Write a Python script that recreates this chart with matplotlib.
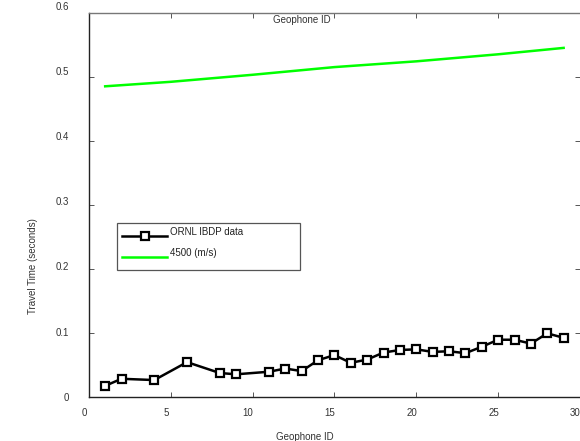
import matplotlib
matplotlib.use("Agg")
import matplotlib.pyplot as plt
from matplotlib.transforms import ScaledTranslation
from matplotlib.patches import Rectangle

# Measured first-arrival travel times per geophone
geophone_ids = [1, 2, 4, 6, 8, 9, 11, 12, 13, 14, 15, 16, 17, 18, 19, 20,
                21, 22, 23, 24, 25, 26, 27, 28, 29]
travel_times = [0.017, 0.028, 0.026, 0.054, 0.037, 0.035, 0.039, 0.044, 0.040,
                0.057, 0.065, 0.053, 0.058, 0.069, 0.073, 0.074, 0.070, 0.071,
                0.068, 0.078, 0.089, 0.089, 0.083, 0.099, 0.092]

# Predicted travel times for a 4500 m/s velocity model
model_ids = [1, 5, 10, 15, 20, 25, 29]
model_times = [0.485, 0.492, 0.503, 0.515, 0.524, 0.535, 0.545]

x_ticks = [0, 5, 10, 15, 20, 25, 30]
x_tick_labels = ["0", "5", "10", "15", "20", "25", "30"]
y_ticks = [0, 0.1, 0.2, 0.3, 0.4, 0.5, 0.6]
y_tick_labels = ["0", "0.1", "0.2", "0.3", "0.4", "0.5", "0.6"]

plt.rcParams["font.family"] = ["Liberation Sans", "DejaVu Sans"]

fig = plt.figure(figsize=(5.8, 4.41), dpi=100)
ax = fig.add_axes([88.8 / 580, 44.3 / 441, 491.2 / 580, 384 / 441])

ax.plot(geophone_ids, travel_times, color="black", lw=1.8, marker="s",
        markersize=6, markeredgewidth=1.6, markerfacecolor="white",
        markeredgecolor="black", label="ORNL IBDP data")
ax.plot(model_ids, model_times, color="#00ff00", lw=1.8, label="4500 (m/s)")

ax.set_xlim(0, 30)
ax.set_ylim(0, 0.6)
ax.set_xticks(x_ticks)
ax.set_xticklabels(x_tick_labels)
ax.set_yticks(y_ticks)
ax.set_yticklabels(y_tick_labels)

ax.tick_params(direction="in", length=3.6, width=0.7, color="#555555",
               labelsize=7, labelcolor="#333333", top=True, right=True)
ax.tick_params(axis="y", pad=14)
ax.tick_params(axis="x", pad=8)

for side in ("left", "bottom"):
    ax.spines[side].set_color("#222222")
    ax.spines[side].set_linewidth(1.0)
ax.spines["top"].set_color("#777777")
ax.spines["top"].set_linewidth(1.0)
ax.spines["right"].set_visible(False)

# Shift tick labels slightly, as in the exported figure
for i, lab in enumerate(ax.get_yticklabels()):
    lab.set_transform(lab.get_transform() +
                      ScaledTranslation(0, i * 1.1 / 100, fig.dpi_scale_trans))
for lab in ax.get_xticklabels():
    lab.set_transform(lab.get_transform() +
                      ScaledTranslation(-4.5 / 100, 0, fig.dpi_scale_trans))

ax.set_xlabel("Geophone ID", fontsize=7, color="#333333")
ax.xaxis.set_label_coords(0.440, -0.104)
ax.xaxis.label.set_va("center")
ax.set_ylabel("Travel Time (seconds)", fontsize=7, color="#333333")
ax.yaxis.set_label_coords(-0.114, 0.340)
ax.yaxis.label.set_va("center")

ax.text(0.434, 0.981, "Geophone ID", transform=ax.transAxes, fontsize=7,
        color="#333333", ha="center", va="center")

# Legend entries without frame, plus a wide box around them
leg = ax.legend(loc="upper left", bbox_to_anchor=(0.062, 0.437),
                frameon=False, fontsize=7, handlelength=4.6,
                handletextpad=0.35, labelspacing=1.1, borderpad=0.3,
                borderaxespad=0.0)
for t in leg.get_texts():
    t.set_y(4.5)
    t.set_color("#222222")
ax.add_patch(Rectangle((0.057, 0.330), 0.373, 0.122, transform=ax.transAxes,
                       facecolor="none", edgecolor="#555555", lw=0.9,
                       zorder=4))

fig.savefig("out.png", dpi=100)
